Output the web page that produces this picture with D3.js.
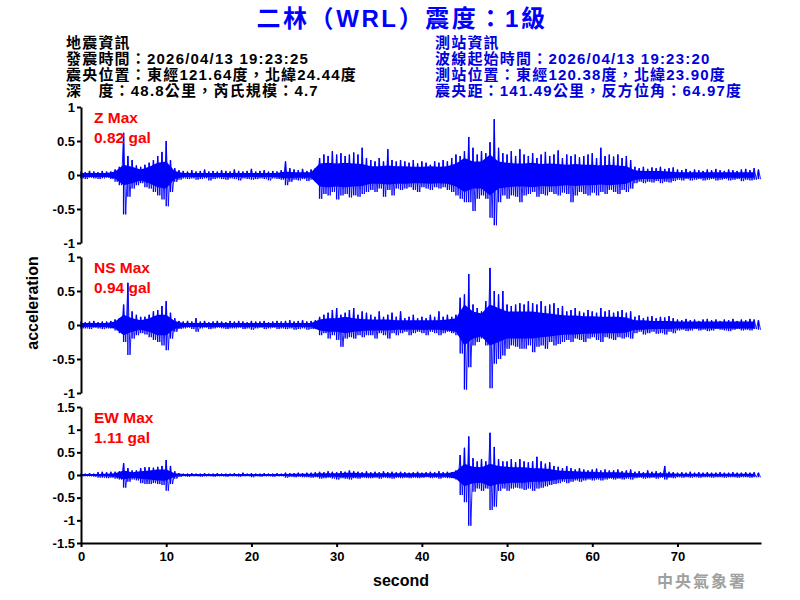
<!DOCTYPE html>
<html>
<head>
<meta charset="utf-8">
<script src="https://cdn.jsdelivr.net/npm/d3@7"></script>
<style>
  body { margin: 0; background: #fff; }
  text { font-family: "Liberation Sans", Arial, "Noto Sans CJK TC", sans-serif; }
</style>
</head>
<body>
<div id="divChart"></div>
<script>
// header texts
var title = '二林（WRL）震度：1級'
var quakeInfo = [
  '地震資訊',
  '發震時間：2026/04/13 19:23:25',
  '震央位置：東經121.64度，北緯24.44度',
  '深　度：48.8公里，芮氏規模：4.7'
]
var stationInfo = [
  '測站資訊',
  '波線起始時間：2026/04/13 19:23:20',
  '測站位置：東經120.38度，北緯23.90度',
  '震央距：141.49公里，反方位角：64.97度'
]

// channels and their peak values
var channels = ['Z', 'NS', 'EW']
var maxValues = ['0.82', '0.94', '1.11']
var yDomains = [[-1, 1], [-1, 1], [-1.5, 1.5]]
var yTicks = [
  [-1, -0.5, 0, 0.5, 1],
  [-1, -0.5, 0, 0.5, 1],
  [-1.5, -1, -0.5, 0, 0.5, 1, 1.5]
]
var xTicks = [0, 10, 20, 30, 40, 50, 60, 70]
var spikeStep = 0.5 // seconds between spike samples
var bandStep = 1 // seconds between band samples

// highest / lowest spike of each trace (gal), read every 0.5 s
var zHi = [0.05, 0.04, 0.06, 0.05, 0.04, 0.06, 0.05, 0.05, 0.08, 0.12,
  0.62, 0.28, 0.22, 0.14, 0.12, 0.15, 0.18, 0.22, 0.28, 0.34,
  0.5, 0.22, 0.1, 0.07, 0.06, 0.05, 0.07, 0.05, 0.06, 0.08,
  0.05, 0.06, 0.05, 0.07, 0.06, 0.05, 0.08, 0.06, 0.05, 0.06,
  0.09, 0.05, 0.06, 0.07, 0.05, 0.06, 0.05, 0.07, 0.2, 0.1,
  0.08, 0.07, 0.09, 0.06, 0.08, 0.1, 0.25, 0.3, 0.28, 0.35,
  0.3, 0.32, 0.28, 0.3, 0.33, 0.3, 0.4, 0.25, 0.22, 0.2,
  0.25, 0.2, 0.38, 0.22, 0.2, 0.22, 0.2, 0.18, 0.22, 0.17,
  0.2, 0.18, 0.15, 0.2, 0.18, 0.22, 0.2, 0.25, 0.3, 0.28,
  0.35, 0.56, 0.4, 0.3, 0.35, 0.32, 0.48, 0.82, 0.4, 0.32,
  0.3, 0.35, 0.28, 0.38, 0.3, 0.28, 0.32, 0.25, 0.3, 0.34,
  0.28, 0.3, 0.36, 0.25, 0.3, 0.28, 0.3, 0.26, 0.28, 0.3,
  0.32, 0.25, 0.4, 0.28, 0.3, 0.27, 0.3, 0.25, 0.28, 0.22,
  0.12, 0.1, 0.12, 0.09, 0.11, 0.1, 0.12, 0.09, 0.1, 0.11,
  0.08, 0.07, 0.09, 0.06, 0.08, 0.07, 0.06, 0.08, 0.07, 0.09,
  0.07, 0.06, 0.08, 0.07, 0.06, 0.08, 0.09, 0.07, 0.1, 0.08]
var zLo = [-0.05, -0.06, -0.04, -0.05, -0.06, -0.05, -0.04, -0.06, -0.1, -0.15,
  -0.58, -0.32, -0.2, -0.15, -0.12, -0.18, -0.2, -0.25, -0.3, -0.36,
  -0.46, -0.25, -0.1, -0.07, -0.05, -0.06, -0.05, -0.07, -0.06, -0.05,
  -0.08, -0.06, -0.05, -0.06, -0.07, -0.05, -0.06, -0.08, -0.05, -0.06,
  -0.07, -0.06, -0.05, -0.06, -0.08, -0.05, -0.06, -0.07, -0.15, -0.1,
  -0.07, -0.08, -0.06, -0.09, -0.07, -0.1, -0.35, -0.28, -0.3, -0.25,
  -0.36, -0.3, -0.28, -0.33, -0.3, -0.32, -0.28, -0.25, -0.22, -0.25,
  -0.2, -0.32, -0.22, -0.3, -0.2, -0.22, -0.2, -0.18, -0.22, -0.25,
  -0.18, -0.2, -0.22, -0.18, -0.2, -0.18, -0.22, -0.25, -0.3, -0.35,
  -0.4, -0.4, -0.53, -0.35, -0.3, -0.35, -0.63, -0.74, -0.4, -0.3,
  -0.35, -0.3, -0.32, -0.4, -0.3, -0.28, -0.25, -0.32, -0.28, -0.3,
  -0.25, -0.28, -0.3, -0.26, -0.28, -0.4, -0.3, -0.25, -0.28, -0.3,
  -0.26, -0.3, -0.25, -0.28, -0.22, -0.25, -0.28, -0.22, -0.25, -0.2,
  -0.12, -0.1, -0.12, -0.1, -0.11, -0.09, -0.12, -0.1, -0.11, -0.09,
  -0.07, -0.08, -0.06, -0.08, -0.07, -0.06, -0.08, -0.07, -0.06, -0.08,
  -0.07, -0.06, -0.08, -0.07, -0.06, -0.09, -0.07, -0.08, -0.07, -0.06]
var nsHi = [0.05, 0.04, 0.05, 0.06, 0.04, 0.05, 0.05, 0.06, 0.08, 0.1,
  0.3, 0.62, 0.2, 0.15, 0.12, 0.12, 0.15, 0.2, 0.22, 0.28,
  0.35, 0.18, 0.1, 0.06, 0.05, 0.06, 0.05, 0.1, 0.05, 0.06,
  0.04, 0.05, 0.06, 0.05, 0.04, 0.06, 0.05, 0.06, 0.05, 0.04,
  0.06, 0.05, 0.05, 0.06, 0.04, 0.05, 0.06, 0.05, 0.06, 0.07,
  0.05, 0.06, 0.07, 0.05, 0.06, 0.07, 0.12, 0.15, 0.18, 0.22,
  0.25, 0.15, 0.18, 0.22, 0.25, 0.15, 0.2, 0.18, 0.15, 0.12,
  0.2, 0.12, 0.15, 0.18, 0.12, 0.2, 0.1, 0.12, 0.15, 0.1,
  0.12, 0.1, 0.15, 0.12, 0.2, 0.12, 0.15, 0.12, 0.15, 0.4,
  0.45, 0.75, 0.3, 0.25, 0.2, 0.35, 0.84, 0.5, 0.45, 0.5,
  0.3, 0.28, 0.3, 0.32, 0.3, 0.35, 0.32, 0.3, 0.35, 0.28,
  0.3, 0.32, 0.25, 0.28, 0.2, 0.22, 0.25, 0.2, 0.18, 0.22,
  0.2, 0.18, 0.25, 0.2, 0.22, 0.18, 0.2, 0.22, 0.18, 0.2,
  0.12, 0.14, 0.1, 0.12, 0.13, 0.1, 0.12, 0.11, 0.13, 0.1,
  0.08, 0.07, 0.09, 0.07, 0.08, 0.06, 0.08, 0.09, 0.07, 0.08,
  0.06, 0.08, 0.07, 0.09, 0.06, 0.08, 0.07, 0.09, 0.08, 0.07]
var nsLo = [-0.05, -0.05, -0.06, -0.04, -0.05, -0.06, -0.05, -0.05, -0.08, -0.12,
  -0.25, -0.44, -0.2, -0.15, -0.12, -0.14, -0.18, -0.22, -0.25, -0.3,
  -0.37, -0.2, -0.1, -0.06, -0.05, -0.04, -0.06, -0.1, -0.05, -0.04,
  -0.06, -0.05, -0.04, -0.05, -0.06, -0.05, -0.05, -0.04, -0.06, -0.05,
  -0.07, -0.05, -0.04, -0.06, -0.05, -0.04, -0.06, -0.05, -0.06, -0.05,
  -0.07, -0.06, -0.05, -0.07, -0.06, -0.06, -0.15, -0.12, -0.2, -0.15,
  -0.22, -0.32, -0.2, -0.18, -0.2, -0.15, -0.18, -0.15, -0.15, -0.2,
  -0.12, -0.15, -0.2, -0.12, -0.15, -0.12, -0.1, -0.15, -0.12, -0.1,
  -0.12, -0.15, -0.1, -0.12, -0.15, -0.12, -0.1, -0.12, -0.15, -0.42,
  -0.95, -0.62, -0.3, -0.25, -0.2, -0.3, -0.93, -0.57, -0.5, -0.45,
  -0.35, -0.3, -0.32, -0.35, -0.35, -0.3, -0.4, -0.32, -0.3, -0.35,
  -0.25, -0.3, -0.28, -0.25, -0.22, -0.25, -0.2, -0.22, -0.25, -0.2,
  -0.18, -0.22, -0.25, -0.18, -0.2, -0.22, -0.18, -0.2, -0.18, -0.2,
  -0.12, -0.1, -0.14, -0.12, -0.1, -0.13, -0.12, -0.14, -0.1, -0.12,
  -0.08, -0.07, -0.09, -0.08, -0.06, -0.08, -0.07, -0.09, -0.08, -0.06,
  -0.07, -0.08, -0.09, -0.07, -0.06, -0.08, -0.07, -0.08, -0.06, -0.07]
var ewHi = [0.03, 0.03, 0.04, 0.03, 0.06, 0.07, 0.06, 0.07, 0.07, 0.08,
  0.26, 0.15, 0.1, 0.1, 0.15, 0.17, 0.17, 0.16, 0.18, 0.2,
  0.33, 0.2, 0.08, 0.04, 0.03, 0.03, 0.04, 0.03, 0.03, 0.04,
  0.03, 0.03, 0.04, 0.03, 0.03, 0.03, 0.04, 0.03, 0.05, 0.03,
  0.04, 0.03, 0.03, 0.04, 0.03, 0.03, 0.04, 0.03, 0.05, 0.04,
  0.04, 0.05, 0.04, 0.05, 0.05, 0.06, 0.07, 0.06, 0.08, 0.07,
  0.06, 0.08, 0.07, 0.1, 0.08, 0.07, 0.06, 0.08, 0.06, 0.07,
  0.06, 0.08, 0.06, 0.07, 0.06, 0.07, 0.06, 0.05, 0.06, 0.07,
  0.05, 0.06, 0.07, 0.06, 0.08, 0.06, 0.07, 0.06, 0.1, 0.44,
  0.6, 0.85, 0.37, 0.3, 0.35, 0.3, 0.93, 0.62, 0.35, 0.3,
  0.3, 0.35, 0.28, 0.35, 0.3, 0.28, 0.3, 0.4, 0.3, 0.25,
  0.28, 0.2, 0.18, 0.15, 0.2, 0.15, 0.12, 0.15, 0.12, 0.1,
  0.12, 0.14, 0.1, 0.12, 0.1, 0.1, 0.12, 0.08, 0.1, 0.12,
  0.07, 0.08, 0.06, 0.1, 0.07, 0.08, 0.06, 0.2, 0.07, 0.06,
  0.05, 0.06, 0.05, 0.07, 0.05, 0.06, 0.05, 0.06, 0.05, 0.05,
  0.06, 0.05, 0.05, 0.06, 0.05, 0.05, 0.06, 0.05, 0.06, 0.05]
var ewLo = [-0.03, -0.03, -0.03, -0.04, -0.06, -0.06, -0.07, -0.06, -0.08, -0.1,
  -0.28, -0.15, -0.1, -0.12, -0.18, -0.2, -0.2, -0.18, -0.2, -0.22,
  -0.35, -0.2, -0.08, -0.04, -0.03, -0.04, -0.03, -0.03, -0.04, -0.03,
  -0.03, -0.04, -0.03, -0.03, -0.04, -0.03, -0.03, -0.04, -0.03, -0.03,
  -0.05, -0.03, -0.04, -0.03, -0.03, -0.04, -0.03, -0.03, -0.06, -0.04,
  -0.05, -0.04, -0.05, -0.05, -0.06, -0.05, -0.08, -0.07, -0.06, -0.08,
  -0.1, -0.07, -0.08, -0.1, -0.07, -0.08, -0.06, -0.07, -0.07, -0.06,
  -0.08, -0.06, -0.07, -0.08, -0.06, -0.07, -0.06, -0.07, -0.06, -0.07,
  -0.06, -0.05, -0.07, -0.06, -0.08, -0.06, -0.07, -0.07, -0.1, -0.44,
  -0.6, -1.12, -0.37, -0.3, -0.35, -0.3, -0.77, -0.7, -0.35, -0.3,
  -0.35, -0.3, -0.28, -0.3, -0.33, -0.3, -0.35, -0.3, -0.28, -0.25,
  -0.22, -0.2, -0.18, -0.15, -0.18, -0.15, -0.12, -0.15, -0.12, -0.1,
  -0.12, -0.1, -0.12, -0.1, -0.08, -0.1, -0.08, -0.1, -0.08, -0.1,
  -0.07, -0.06, -0.08, -0.07, -0.06, -0.08, -0.06, -0.1, -0.06, -0.07,
  -0.05, -0.06, -0.05, -0.06, -0.05, -0.06, -0.05, -0.05, -0.06, -0.05,
  -0.05, -0.06, -0.05, -0.05, -0.06, -0.05, -0.05, -0.06, -0.05, -0.05]

// half-width of the dense core of each trace (gal), read every 1 s
var zBand = [0.03, 0.03, 0.03, 0.03, 0.05, 0.15, 0.12, 0.08, 0.12, 0.18,
  0.2, 0.06, 0.03, 0.03, 0.03, 0.03, 0.03, 0.03, 0.03, 0.03,
  0.03, 0.03, 0.03, 0.03, 0.05, 0.04, 0.04, 0.04, 0.17, 0.18,
  0.17, 0.18, 0.17, 0.16, 0.13, 0.13, 0.14, 0.13, 0.13, 0.12,
  0.12, 0.13, 0.12, 0.13, 0.17, 0.25, 0.2, 0.2, 0.3, 0.2,
  0.18, 0.17, 0.17, 0.18, 0.16, 0.17, 0.16, 0.15, 0.16, 0.15,
  0.15, 0.14, 0.15, 0.14, 0.13, 0.07, 0.06, 0.06, 0.06, 0.05,
  0.04, 0.04, 0.04, 0.04, 0.04, 0.04, 0.04, 0.04, 0.04, 0.04]
var nsBand = [0.03, 0.03, 0.03, 0.03, 0.05, 0.15, 0.1, 0.07, 0.1, 0.15,
  0.15, 0.06, 0.03, 0.03, 0.03, 0.03, 0.03, 0.03, 0.03, 0.03,
  0.03, 0.03, 0.03, 0.03, 0.03, 0.03, 0.03, 0.03, 0.08, 0.1,
  0.1, 0.12, 0.1, 0.09, 0.08, 0.08, 0.08, 0.07, 0.07, 0.07,
  0.07, 0.07, 0.07, 0.08, 0.1, 0.3, 0.2, 0.17, 0.3, 0.25,
  0.2, 0.2, 0.2, 0.2, 0.18, 0.17, 0.15, 0.14, 0.14, 0.13,
  0.13, 0.12, 0.12, 0.12, 0.11, 0.07, 0.07, 0.06, 0.06, 0.06,
  0.05, 0.05, 0.05, 0.05, 0.05, 0.05, 0.05, 0.05, 0.05, 0.05]
var ewBand = [0.02, 0.02, 0.02, 0.03, 0.04, 0.1, 0.06, 0.08, 0.1, 0.12,
  0.12, 0.04, 0.02, 0.02, 0.02, 0.02, 0.02, 0.02, 0.02, 0.02,
  0.02, 0.02, 0.02, 0.02, 0.02, 0.03, 0.03, 0.03, 0.04, 0.04,
  0.04, 0.05, 0.05, 0.04, 0.04, 0.04, 0.04, 0.04, 0.04, 0.04,
  0.04, 0.04, 0.04, 0.04, 0.08, 0.25, 0.18, 0.17, 0.25, 0.2,
  0.18, 0.17, 0.17, 0.15, 0.15, 0.13, 0.1, 0.09, 0.08, 0.07,
  0.07, 0.06, 0.06, 0.06, 0.05, 0.04, 0.04, 0.04, 0.04, 0.04,
  0.03, 0.03, 0.03, 0.03, 0.03, 0.03, 0.03, 0.03, 0.03, 0.03]

var traces = [[zHi, zLo, zBand], [nsHi, nsLo, nsBand], [ewHi, ewLo, ewBand]]

// global store for layout and drawing
var chart = {}

function initChart () {
  chart.width = 800
  chart.height = 600
  chart.left = 81
  chart.right = 761
  chart.panelTops = [107, 257, 407]
  chart.panelHeight = 136
  chart.xScale = d3.scaleLinear().domain([0, 79.8]).range([chart.left, chart.right])

  chart.svg = d3
    .select('#divChart')
    .append('svg')
    .attr('width', chart.width)
    .attr('height', chart.height)
    .style('display', 'block')
}

function drawHeader () {
  var svg = chart.svg
  svg.append('text')
    .attr('x', 402)
    .attr('y', 27)
    .attr('text-anchor', 'middle')
    .attr('font-size', 24)
    .attr('font-weight', 'bold')
    .attr('letter-spacing', 2.6)
    .attr('fill', '#0000ff')
    .text(title)

  // earthquake info (left) and station info (right)
  svg.append('g').selectAll('text')
    .data(quakeInfo)
    .enter()
    .append('text')
    .attr('x', 66)
    .attr('y', function (d, i) { return 48 + i * 16 })
    .attr('font-size', 15)
    .attr('font-weight', 'bold')
    .attr('letter-spacing', 1.2)
    .attr('fill', '#000')
    .text(function (d) { return d })

  svg.append('g').selectAll('text')
    .data(stationInfo)
    .enter()
    .append('text')
    .attr('x', 435)
    .attr('y', function (d, i) { return 48 + i * 16 })
    .attr('font-size', 15)
    .attr('font-weight', 'bold')
    .attr('letter-spacing', 1.2)
    .attr('fill', '#0000dd')
    .text(function (d) { return d })
}

function drawPanels () {
  channels.forEach(function (ch, k) {
    var top = chart.panelTops[k]
    var yScale = d3.scaleLinear().domain(yDomains[k]).range([top + chart.panelHeight, top])
    var hi = traces[k][0]
    var lo = traces[k][1]
    var g = chart.svg.append('g').attr('class', 'trace')

    // dense core of the waveform
    var area = d3.area()
      .x(function (d, i) { return chart.xScale(i * bandStep) })
      .y0(function (d) { return yScale(-d) })
      .y1(function (d) { return yScale(d) })
    g.append('path')
      .datum(traces[k][2])
      .attr('d', area)
      .attr('fill', '#0000ff')

    // swing between the spikes: up to the high one, down to the low one
    var swing = []
    hi.forEach(function (v, i) {
      swing.push([i * spikeStep, v])
      swing.push([i * spikeStep + spikeStep / 2, lo[i]])
    })
    g.append('path')
      .datum(swing)
      .attr('d', d3.line()
        .x(function (d) { return chart.xScale(d[0]) })
        .y(function (d) { return yScale(d[1]) }))
      .attr('fill', 'none')
      .attr('stroke', '#0000ff')
      .attr('stroke-width', 0.9)

    // spikes reaching out of the core
    g.selectAll('line')
      .data(hi)
      .enter()
      .append('line')
      .attr('x1', function (d, i) { return chart.xScale(i * spikeStep) })
      .attr('x2', function (d, i) { return chart.xScale(i * spikeStep) })
      .attr('y1', function (d) { return yScale(d) })
      .attr('y2', function (d, i) { return yScale(lo[i]) })
      .attr('stroke', '#0000ff')
      .attr('stroke-width', 1.4)

    // y axis
    var gAxis = chart.svg.append('g')
      .attr('transform', 'translate(' + chart.left + ',0)')
      .call(d3.axisLeft(yScale)
        .tickValues(yTicks[k])
        .tickSize(4)
        .tickSizeOuter(0)
        .tickPadding(2)
        .tickFormat(function (d) { return String(d) }))
    styleAxis(gAxis)

    // channel label with its peak value
    chart.svg.append('text')
      .attr('x', 94)
      .attr('y', top + 16)
      .attr('font-size', 15.5)
      .attr('font-weight', 'bold')
      .attr('fill', '#ff0000')
      .text(ch + ' Max')
    chart.svg.append('text')
      .attr('x', 94)
      .attr('y', top + 36)
      .attr('font-size', 15.5)
      .attr('font-weight', 'bold')
      .attr('fill', '#ff0000')
      .text(maxValues[k] + ' gal')
  })

  // shared time axis under the last panel
  var bottom = chart.panelTops[2] + chart.panelHeight
  var gX = chart.svg.append('g')
    .attr('transform', 'translate(0,' + bottom + ')')
    .call(d3.axisBottom(chart.xScale)
      .tickValues(xTicks)
      .tickSize(4)
      .tickSizeOuter(0)
      .tickPadding(5)
      .tickFormat(function (d) { return String(d) }))
  styleAxis(gX)
}

function styleAxis (g) {
  g.select('.domain').attr('stroke', '#000').attr('stroke-width', 2)
  g.selectAll('.tick line').attr('stroke', '#000').attr('stroke-width', 2)
  g.selectAll('.tick text')
    .attr('fill', '#000')
    .attr('font-size', 13)
    .attr('font-weight', 'bold')
    .attr('font-family', '"Liberation Sans", Arial, sans-serif')
}

function drawLabels () {
  chart.svg.append('text')
    .attr('transform', 'translate(38,303) rotate(-90)')
    .attr('text-anchor', 'middle')
    .attr('font-size', 16)
    .attr('font-weight', 'bold')
    .attr('fill', '#000')
    .text('acceleration')

  chart.svg.append('text')
    .attr('x', 401)
    .attr('y', 586)
    .attr('text-anchor', 'middle')
    .attr('font-size', 16)
    .attr('font-weight', 'bold')
    .attr('fill', '#000')
    .text('second')

  // agency watermark
  chart.svg.append('text')
    .attr('x', 657)
    .attr('y', 587)
    .attr('font-size', 16)
    .attr('font-weight', 'bold')
    .attr('letter-spacing', 2)
    .attr('fill', '#a0a0a0')
    .text('中央氣象署')
}

initChart()
drawHeader()
drawPanels()
drawLabels()
</script>
</body>
</html>
